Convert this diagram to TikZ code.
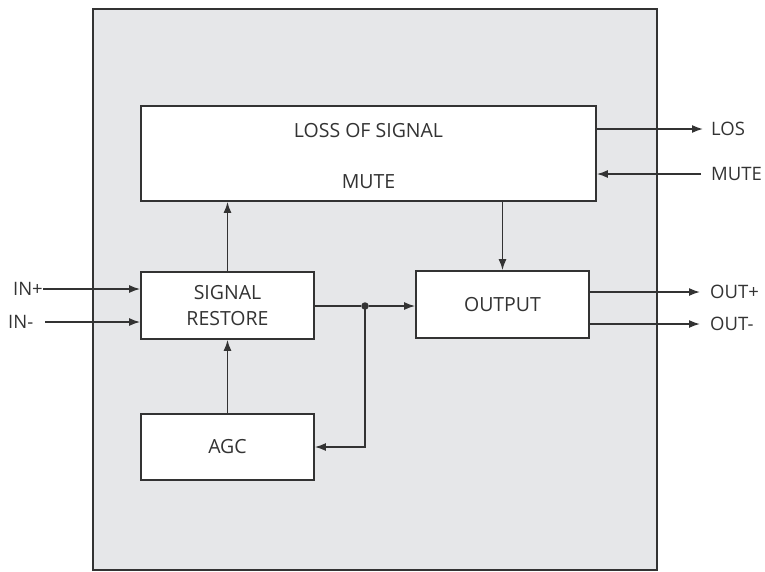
\documentclass[tikz,border=0pt]{standalone}
\usepackage{fontspec}
\setmainfont{Open Sans}
\usetikzlibrary{arrows.meta,calc}
\definecolor{panel}{HTML}{E6E7E9}
\definecolor{ink}{HTML}{333333}
\begin{document}
\begin{tikzpicture}[x=1pt,y=-1pt,
  every node/.style={text=ink,font=\fontsize{19.5}{26}\selectfont},
  blk/.style={draw=ink,line width=1.7pt,fill=white,minimum width=173pt,minimum height=67pt,align=center,inner sep=0pt},
  wire/.style={draw=ink,line width=1.6pt},
  arr/.style={wire,-{Latex[length=11pt,width=8pt]}},
  ext/.style={inner sep=0pt,font=\fontsize{18.5}{24}\selectfont},
  dot/.style={circle,fill=ink,inner sep=0pt,minimum size=7.5pt}]
\useasboundingbox (0,0) rectangle (765,571);
\fill[panel] (93,9) rectangle (657,570);
\draw[ink,line width=2pt] (93,571) -- (93,9) -- (657,9) -- (657,571);
\draw[ink,line width=1.4pt] (93,570) -- (657,570);
% blocks
\node[blk,minimum width=455pt,minimum height=95pt] (los) at (368.5,153.5) {};
\node (lostxt) at (368.5,131) {LOSS OF SIGNAL};
\node (mutetxt) at (368.5,182) {MUTE};
\node[blk] (sr) at (227.5,305.5) {SIGNAL\\RESTORE};
\node[blk] (out) at (502.5,304.5) {OUTPUT};
\node[blk,minimum height=66pt] (agc) at (227.5,447) {AGC};
% external labels
\node[ext,anchor=east] (inp) at (43,289) {IN+};
\node[ext,anchor=west] (inm) at (8,322) {IN-};
\node[ext,anchor=west] (losl) at (711,129) {LOS};
\node[ext,anchor=west] (mutel) at (711,174) {MUTE};
\node[ext,anchor=west] (outp) at (710,292) {OUT+};
\node[ext,anchor=west] (outm) at (710,324) {OUT-};
\coordinate (losend) at (703,129);
\coordinate (mutestart) at (701,174);
\coordinate (outpend) at (700,292);
\coordinate (outmend) at (700,324);
\coordinate (inmstart) at (45,322);
% connectors
\draw[arr] (inp.east) -- (inp.east -| sr.west);
\draw[arr] (inmstart) -- (inmstart -| sr.west);
\node[dot] (j) at (365,306) {};
\draw[wire] (sr.east |- j) -- (j);
\draw[arr] (j) -- (j -| out.west);
\draw[arr] (j.center) |- (agc.east);
\draw[arr] (agc.north) -- (sr.south);
\draw[arr] (sr.north) -- (sr.north |- los.south);
\draw[arr] (los.south -| out.north) -- (out.north);
\draw[arr] (losend -| los.east) -- (losend);
\draw[arr] (mutestart) -- (mutestart -| los.east);
\draw[arr] (outpend -| out.east) -- (outpend);
\draw[arr] (outmend -| out.east) -- (outmend);
\end{tikzpicture}
\end{document}
